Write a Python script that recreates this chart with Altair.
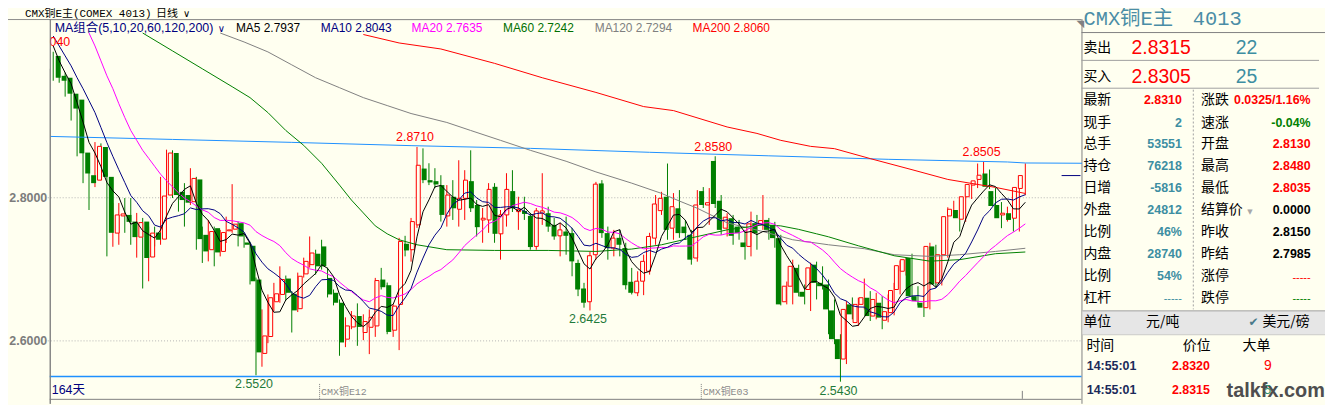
import altair as alt
import pandas as pd

# ---------------- values ----------------
opens = [
2.9982, 2.9704, 2.9677, 2.9454, 2.9371, 2.8631, 2.8315, 2.8246, 2.8709, 2.8292,
2.7506, 2.7746, 2.7760, 2.7667, 2.7450, 2.7667, 2.7172, 2.7514, 2.7422, 2.8038,
2.8625, 2.8083, 2.8038, 2.7945, 2.8256, 2.7482, 2.7274, 2.7575, 2.7250, 2.7538,
2.7561, 2.7645, 2.7375, 2.7329, 2.6857, 2.5825, 2.6061, 2.6547, 2.6649, 2.6871,
2.6658, 2.6450, 2.6936, 2.7065, 2.7218, 2.7320, 2.6880, 2.6672, 2.6533, 2.6024,
2.6195, 2.6348, 2.6117, 2.6190, 2.6209, 2.6857, 2.6778, 2.6149, 2.6510, 2.7357,
2.7274, 2.7621, 2.8408, 2.8246, 2.8232, 2.8177, 2.7746, 2.8014, 2.7839, 2.7992,
2.8232, 2.7899, 2.7690, 2.7690, 2.8153, 2.7496, 2.7760, 2.8093, 2.7806, 2.7816,
2.7746, 2.7320, 2.7784, 2.7784, 2.7621, 2.7468, 2.7528, 2.7506, 2.7089, 2.6732,
2.6547, 2.7204, 2.8200, 2.7506, 2.7297, 2.7440, 2.7297, 2.6826, 2.6672, 2.6834,
2.6973, 2.7436, 2.7820, 2.8014, 2.7575, 2.7853, 2.7597, 2.7482, 2.7158, 2.8093,
2.7899, 2.8514, 2.7958, 2.7575, 2.7714, 2.7597, 2.7375, 2.7320, 2.7645, 2.7635,
2.7690, 2.7621, 2.7436, 2.6547, 2.6764, 2.7020, 2.6686, 2.6718, 2.7065, 2.6811,
2.6788, 2.6426, 2.6024, 2.5746, 2.6510, 2.6256, 2.6510, 2.6603, 2.6347, 2.6533,
2.6288, 2.6395, 2.6718, 2.6973, 2.7159, 2.6625, 2.6533, 2.6464, 2.7320, 2.6811,
2.7204, 2.7746, 2.7829, 2.7700, 2.8014, 2.8177, 2.8256, 2.8339, 2.8093, 2.7899,
2.7760, 2.7784, 2.7714, 2.8130]
highs = [
3.0040, 2.9954, 2.9750, 2.9496, 2.9427, 2.8663, 2.8357, 2.8778, 2.8760, 2.8343,
2.7926, 2.7926, 2.7996, 2.7996, 2.7788, 2.7718, 2.7597, 2.7597, 2.8292, 2.8672,
2.8663, 2.8361, 2.8204, 2.8413, 2.8292, 2.7597, 2.7690, 2.7597, 2.7551, 2.7736,
2.8190, 2.7667, 2.7506, 2.7385, 2.6885, 2.6440, 2.6649, 2.6811, 2.7042, 2.6913,
2.6695, 2.6954, 2.7163, 2.7459, 2.7274, 2.7413, 2.7024, 2.6718, 2.6579, 2.6329,
2.6417, 2.6524, 2.6371, 2.6440, 2.6880, 2.7020, 2.6815, 2.6510, 2.7440, 2.7468,
2.7718, 2.8710, 2.8690, 2.8482, 2.8413, 2.8315, 2.8177, 2.8246, 2.8524, 2.8385,
2.8663, 2.7968, 2.7857, 2.8204, 2.8204, 2.7829, 2.8343, 2.8385, 2.8014, 2.8014,
2.7788, 2.7857, 2.8343, 2.7875, 2.7718, 2.7649, 2.7736, 2.7579, 2.7135, 2.6811,
2.7246, 2.8222, 2.8246, 2.7597, 2.7551, 2.7551, 2.7371, 2.7020, 2.6973, 2.7204,
2.7510, 2.8038, 2.8083, 2.8478, 2.8065, 2.8107, 2.7690, 2.7551, 2.8107, 2.8149,
2.8135, 2.8580, 2.8038, 2.7784, 2.7760, 2.7690, 2.7551, 2.7806, 2.7760, 2.8038,
2.7718, 2.7663, 2.7482, 2.6829, 2.7135, 2.7065, 2.6788, 2.7093, 2.7107, 2.7042,
2.6857, 2.6579, 2.6093, 2.6556, 2.6607, 2.6603, 2.6871, 2.6695, 2.6672, 2.6625,
2.6649, 2.6811, 2.7121, 2.7163, 2.7218, 2.6764, 2.6635, 2.7371, 2.7343, 2.7274,
2.7867, 2.7958, 2.7968, 2.8065, 2.8222, 2.8478, 2.8505, 2.8395, 2.8135, 2.7940,
2.7875, 2.7857, 2.8222, 2.8480]
lows = [
2.9635, 2.9607, 2.9413, 2.9079, 2.8579, 2.8204, 2.7829, 2.8149, 2.8246, 2.7181,
2.7315, 2.7343, 2.7510, 2.7343, 2.7163, 2.6732, 2.6833, 2.7320, 2.7343, 2.7996,
2.7996, 2.7806, 2.7597, 2.7899, 2.7274, 2.7089, 2.7111, 2.7042, 2.7181, 2.7367,
2.7510, 2.7320, 2.7302, 2.6788, 2.5520, 2.5639, 2.5968, 2.6417, 2.6533, 2.6565,
2.6117, 2.6403, 2.6885, 2.7024, 2.6926, 2.6996, 2.6607, 2.6496, 2.5792, 2.5913,
2.6163, 2.5931, 2.6010, 2.5815, 2.6056, 2.6718, 2.6093, 2.6056, 2.5871, 2.7181,
2.7107, 2.7579, 2.8204, 2.8177, 2.8135, 2.7667, 2.7597, 2.7690, 2.7597, 2.7690,
2.7801, 2.7459, 2.7371, 2.7510, 2.7371, 2.7135, 2.7597, 2.7801, 2.7551, 2.7690,
2.7274, 2.7274, 2.7621, 2.7524, 2.7413, 2.7181, 2.7204, 2.6903, 2.6625, 2.6464,
2.6425, 2.7135, 2.7440, 2.7135, 2.7181, 2.7181, 2.6718, 2.6649, 2.6625, 2.6639,
2.6926, 2.7343, 2.7760, 2.7413, 2.7413, 2.7440, 2.7413, 2.7065, 2.7107, 2.7857,
2.7621, 2.7857, 2.7482, 2.7459, 2.7343, 2.7413, 2.7135, 2.7181, 2.7274, 2.7551,
2.7413, 2.7302, 2.6496, 2.6510, 2.6510, 2.6621, 2.6510, 2.6417, 2.6579, 2.6718,
2.6093, 2.5954, 2.5430, 2.5676, 2.6301, 2.6209, 2.6440, 2.6278, 2.6301, 2.6163,
2.6260, 2.6357, 2.6649, 2.6913, 2.6579, 2.6496, 2.6334, 2.6440, 2.6746, 2.6774,
2.7163, 2.7718, 2.7528, 2.7663, 2.7982, 2.8135, 2.8222, 2.8121, 2.7736, 2.7575,
2.7667, 2.7528, 2.7528, 2.8035]
closes = [
2.9677, 2.9635, 2.9454, 2.9246, 2.8621, 2.8339, 2.8204, 2.8718, 2.8292, 2.7510,
2.7760, 2.7774, 2.7663, 2.7450, 2.7653, 2.7158, 2.7506, 2.7413, 2.8024, 2.8625,
2.8038, 2.7968, 2.7931, 2.8270, 2.7422, 2.7250, 2.7528, 2.7236, 2.7514, 2.7551,
2.7631, 2.7459, 2.7343, 2.6833, 2.5839, 2.6069, 2.6603, 2.6658, 2.6857, 2.6672,
2.6426, 2.6903, 2.7111, 2.7228, 2.7042, 2.7042, 2.6649, 2.6533, 2.5978, 2.6209,
2.6348, 2.6195, 2.6270, 2.6329, 2.6843, 2.6750, 2.6125, 2.6486, 2.7389, 2.7264,
2.7667, 2.8454, 2.8246, 2.8214, 2.8186, 2.7760, 2.8038, 2.7853, 2.7992, 2.8246,
2.7853, 2.7589, 2.7714, 2.8117, 2.7496, 2.7760, 2.8117, 2.7853, 2.7839, 2.7774,
2.7311, 2.7816, 2.7816, 2.7597, 2.7459, 2.7551, 2.7468, 2.7111, 2.6718, 2.6533,
2.7190, 2.8190, 2.7506, 2.7297, 2.7436, 2.7343, 2.6778, 2.6672, 2.6834, 2.7111,
2.7459, 2.7913, 2.7992, 2.7551, 2.7875, 2.7506, 2.7506, 2.7135, 2.7899, 2.7899,
2.7931, 2.7913, 2.7551, 2.7728, 2.7468, 2.7506, 2.7311, 2.7635, 2.7506, 2.7681,
2.7551, 2.7436, 2.6510, 2.6764, 2.7042, 2.6672, 2.6617, 2.7020, 2.6811, 2.6764,
2.6440, 2.6024, 2.5746, 2.6440, 2.6371, 2.6510, 2.6603, 2.6347, 2.6579, 2.6325,
2.6408, 2.6704, 2.7051, 2.7135, 2.6625, 2.6556, 2.6464, 2.7320, 2.6788, 2.7204,
2.7736, 2.7839, 2.7714, 2.8014, 2.8186, 2.8236, 2.8315, 2.8153, 2.7885, 2.7714,
2.7784, 2.7690, 2.8144, 2.8310]

ma5 = [
3.0121, 2.9913, 2.9746, 2.9593, 2.9329, 2.9058, 2.8774, 2.8625, 2.8435, 2.8213,
2.8097, 2.8011, 2.7800, 2.7631, 2.7660, 2.7539, 2.7486, 2.7436, 2.7550, 2.7745,
2.7921, 2.8014, 2.8117, 2.8167, 2.7925, 2.7768, 2.7681, 2.7542, 2.7390, 2.7415,
2.7492, 2.7478, 2.7500, 2.7364, 2.7021, 2.6708, 2.6538, 2.6400, 2.6406, 2.6572,
2.6643, 2.6704, 2.6795, 2.6868, 2.6942, 2.7065, 2.7014, 2.6899, 2.6649, 2.6482,
2.6343, 2.6253, 2.6200, 2.6270, 2.6399, 2.6482, 2.6468, 2.6510, 2.6718, 2.6802,
2.6986, 2.7454, 2.7804, 2.7970, 2.8153, 2.8172, 2.8089, 2.8010, 2.7965, 2.7978,
2.7996, 2.7907, 2.7879, 2.7904, 2.7754, 2.7735, 2.7840, 2.7868, 2.7813, 2.7868,
2.7779, 2.7718, 2.7711, 2.7663, 2.7600, 2.7649, 2.7579, 2.7438, 2.7261, 2.7077,
2.7004, 2.7149, 2.7228, 2.7343, 2.7524, 2.7554, 2.7272, 2.7106, 2.7013, 2.6947,
2.6971, 2.7197, 2.7461, 2.7606, 2.7758, 2.7767, 2.7686, 2.7514, 2.7583, 2.7589,
2.7674, 2.7756, 2.7839, 2.7804, 2.7718, 2.7633, 2.7513, 2.7529, 2.7485, 2.7528,
2.7536, 2.7561, 2.7336, 2.7189, 2.7061, 2.6885, 2.6721, 2.6822, 2.6832, 2.6777,
2.6731, 2.6611, 2.6357, 2.6283, 2.6204, 2.6218, 2.6333, 2.6454, 2.6482, 2.6472,
2.6453, 2.6472, 2.6614, 2.6725, 2.6785, 2.6814, 2.6767, 2.6820, 2.6750, 2.6867,
2.7103, 2.7378, 2.7456, 2.7702, 2.7897, 2.7997, 2.8093, 2.8181, 2.8156, 2.8061,
2.7970, 2.7845, 2.7843, 2.7937]
ma10 = [
3.0260, 3.0121, 2.9982, 2.9843, 2.9677, 2.9524, 2.9357, 2.9190, 2.8982, 2.8771,
2.8578, 2.8392, 2.8213, 2.8032, 2.7936, 2.7818, 2.7749, 2.7618, 2.7590, 2.7702,
2.7729, 2.7750, 2.7777, 2.7858, 2.7835, 2.7845, 2.7847, 2.7829, 2.7778, 2.7670,
2.7629, 2.7579, 2.7521, 2.7377, 2.7218, 2.7100, 2.7007, 2.6950, 2.6885, 2.6796,
2.6675, 2.6621, 2.6597, 2.6636, 2.6757, 2.6854, 2.6858, 2.6846, 2.6758, 2.6711,
2.6704, 2.6633, 2.6549, 2.6458, 2.6440, 2.6413, 2.6360, 2.6354, 2.6493, 2.6600,
2.6733, 2.6961, 2.7157, 2.7343, 2.7477, 2.7579, 2.7771, 2.7907, 2.7967, 2.8065,
2.8083, 2.7997, 2.7945, 2.7935, 2.7865, 2.7865, 2.7874, 2.7874, 2.7858, 2.7811,
2.7757, 2.7779, 2.7789, 2.7738, 2.7733, 2.7714, 2.7649, 2.7574, 2.7461, 2.7338,
2.7327, 2.7364, 2.7332, 2.7302, 2.7300, 2.7279, 2.7210, 2.7167, 2.7178, 2.7235,
2.7263, 2.7235, 2.7283, 2.7308, 2.7353, 2.7368, 2.7442, 2.7488, 2.7595, 2.7674,
2.7720, 2.7721, 2.7677, 2.7693, 2.7653, 2.7653, 2.7633, 2.7683, 2.7645, 2.7622,
2.7585, 2.7536, 2.7432, 2.7336, 2.7295, 2.7210, 2.7140, 2.7079, 2.7010, 2.6918,
2.6807, 2.6665, 2.6589, 2.6557, 2.6490, 2.6474, 2.6472, 2.6406, 2.6382, 2.6338,
2.6335, 2.6403, 2.6533, 2.6603, 2.6628, 2.6633, 2.6620, 2.6717, 2.6738, 2.6825,
2.6958, 2.7072, 2.7138, 2.7225, 2.7382, 2.7550, 2.7735, 2.7818, 2.7928, 2.7979,
2.7983, 2.7968, 2.8011, 2.8043]
ma20_first = 6
ma20 = [
3.0302, 3.0121, 2.9913, 2.9704, 2.9524, 2.9315, 2.9121, 2.8940, 2.8802, 2.8663,
2.8552, 2.8440, 2.8329, 2.8236, 2.8153, 2.8071, 2.7995, 2.7945, 2.7885, 2.7831,
2.7797, 2.7724, 2.7683, 2.7685, 2.7679, 2.7664, 2.7649, 2.7617, 2.7527, 2.7472,
2.7427, 2.7389, 2.7331, 2.7232, 2.7152, 2.7100, 2.7058, 2.7006, 2.6988, 2.6977,
2.6932, 2.6897, 2.6821, 2.6753, 2.6689, 2.6627, 2.6572, 2.6547, 2.6599, 2.6633,
2.6608, 2.6600, 2.6625, 2.6656, 2.6718, 2.6797, 2.6853, 2.6900, 2.6958, 2.6996,
2.7065, 2.7131, 2.7229, 2.7332, 2.7408, 2.7479, 2.7550, 2.7639, 2.7671, 2.7722,
2.7822, 2.7890, 2.7913, 2.7938, 2.7920, 2.7888, 2.7867, 2.7836, 2.7799, 2.7789,
2.7761, 2.7724, 2.7660, 2.7574, 2.7542, 2.7571, 2.7560, 2.7520, 2.7517, 2.7496,
2.7429, 2.7370, 2.7320, 2.7286, 2.7295, 2.7299, 2.7307, 2.7304, 2.7327, 2.7324,
2.7325, 2.7327, 2.7386, 2.7454, 2.7490, 2.7478, 2.7479, 2.7500, 2.7503, 2.7510,
2.7538, 2.7585, 2.7620, 2.7647, 2.7652, 2.7628, 2.7554, 2.7514, 2.7474, 2.7431,
2.7386, 2.7381, 2.7327, 2.7270, 2.7196, 2.7100, 2.7010, 2.6946, 2.6892, 2.6842,
2.6806, 2.6742, 2.6696, 2.6628, 2.6571, 2.6533, 2.6561, 2.6579, 2.6558, 2.6553,
2.6546, 2.6561, 2.6560, 2.6581, 2.6646, 2.6738, 2.6835, 2.6914, 2.7004, 2.7092,
2.7177, 2.7267, 2.7332, 2.7402, 2.7471, 2.7520, 2.7574, 2.7635]
ma60_days = [15, 20, 25, 30, 33, 36, 39, 42, 45, 48, 50, 52, 54, 56, 58, 61, 66, 74, 83, 91,
             97, 102, 108, 113, 119, 122, 125, 128, 130, 135, 141, 147, 152, 158, 163]
ma60 = [3.0302, 3.0052, 2.9802, 2.9552, 2.9399, 2.9190, 2.8940, 2.8732, 2.8482, 2.8177,
        2.7968, 2.7788, 2.7607, 2.7496, 2.7413, 2.7343, 2.7274, 2.7264, 2.7264, 2.7250,
        2.7283, 2.7343, 2.7458, 2.7552, 2.7621, 2.7607, 2.7558, 2.7496, 2.7454, 2.7329,
        2.7190, 2.7114, 2.7135, 2.7218, 2.7242]
ma120_days = [28, 32, 36, 40, 44, 48, 52, 56, 60, 66, 70, 75, 80, 86, 91, 97, 102, 105, 108, 113,
              119, 124, 130, 136, 141, 147, 152, 158, 163]
ma120 = [3.0302, 3.0177, 3.0038, 2.9857, 2.9677, 2.9538, 2.9399, 2.9288, 2.9177, 2.9052,
         2.8940, 2.8802, 2.8663, 2.8510, 2.8361, 2.8204, 2.8061, 2.7954, 2.7853, 2.7649,
         2.7528, 2.7413, 2.7343, 2.7288, 2.7204, 2.7181, 2.7204, 2.7250, 2.7294]
ma200_days = [52, 58, 65, 74, 82, 91, 99, 104, 113, 118, 122, 127, 131, 137, 144, 150, 154, 158, 163]
ma200 = [3.0281, 3.0163, 3.0079, 2.9878, 2.9677, 2.9472, 2.9274, 2.9218, 2.8989, 2.8899,
         2.8802, 2.8718, 2.8686, 2.8547, 2.8392, 2.8256, 2.8200, 2.8145, 2.8060]
upper_days = [-0.5, 20, 40, 60, 80, 100, 120, 140, 160, 163, 172.5]
upper_line = [2.8857, 2.8815, 2.8774, 2.8728, 2.8690, 2.8635, 2.8586, 2.8537, 2.8500, 2.8486, 2.8482]

peak_days = [0, 61, 111, 156]
peak_vals = [3.0040, 2.8710, 2.8580, 2.8505]
trough_days = [34, 90, 132]
trough_vals = [2.5520, 2.6425, 2.5430]
grid_vals = [2.6, 2.8]
last_price = 2.8310

legend_items = ["MA5 2.7937", "MA10 2.8043", "MA20 2.7635", "MA60 2.7242", "MA120 2.7294", "MA200 2.8060"]

# ---------------- styling ----------------
BG = "#FFFFF0"
RED = "#FF0000"
GRN = "#007F00"
NAVY = "#00007F"
TEAL = "#3D8EA2"
GRAY = "#808080"
SANS = "Liberation Sans, Noto Sans CJK SC"
CJK = "Noto Sans CJK SC, Liberation Sans"
MONO = "Liberation Mono, Noto Sans CJK SC"
W, H = 1325, 397

XS = alt.Scale(domain=[0, 163], range=[45.5, 1023.5], zero=False, nice=False)
YS = alt.Scale(domain=[2.6, 2.8], range=[333.7, 189.7], zero=False, nice=False)


def xq(f):
    return alt.X(f, type="quantitative", scale=XS, axis=None)


def yq(f):
    return alt.Y(f, type="quantitative", scale=YS, axis=None)


ONE = pd.DataFrame({"a": [0]})


def rule(x1, x2, y1, y2, color, width=1.0, dash=None):
    kw = dict(color=color, strokeWidth=width)
    if dash:
        kw["strokeDash"] = dash
    return alt.Chart(ONE).mark_rule(**kw).encode(
        x=alt.value(x1), x2=alt.value(x2), y=alt.value(y1), y2=alt.value(y2))


def box(x1, x2, y1, y2, color):
    return alt.Chart(ONE).mark_rect(color=color).encode(
        x=alt.value(x1), x2=alt.value(x2), y=alt.value(y1), y2=alt.value(y2))


def txt(rows, size, font=SANS, weight="normal", align="left", baseline="middle"):
    d = pd.DataFrame(rows, columns=["t", "px", "py", "col"])
    return alt.Chart(d).mark_text(font=font, fontSize=size, fontWeight=weight,
                                  align=align, baseline=baseline).encode(
        x=alt.X("px:Q", scale=None, axis=None),
        y=alt.Y("py:Q", scale=None, axis=None),
        text="t:N",
        color=alt.Color("col:N", scale=None))


# ---------------- candles ----------------
cd = pd.DataFrame({"i": list(range(len(opens))), "o": opens, "h": highs, "l": lows, "c": closes})
cd["col"] = [RED if c >= o else GRN for o, c in zip(opens, closes)]

wicks = alt.Chart(cd).mark_rule(strokeWidth=1).encode(
    x=xq("i"), y=yq("l"), y2="h:Q", color=alt.Color("col:N", scale=None))
down_bodies = alt.Chart(cd).transform_filter("datum.c < datum.o").mark_bar(
    size=5, color=GRN).encode(x=xq("i"), y=yq("o"), y2="c:Q")
up_bodies = alt.Chart(cd).transform_filter("datum.c >= datum.o").mark_bar(
    size=4, fill=BG, stroke=RED, strokeWidth=1).encode(x=xq("i"), y=yq("o"), y2="c:Q")

# ---------------- moving averages ----------------
rows = []
for nm, col, days, vals in [
    ("upper", "#1E90FF", upper_days, upper_line),
    ("MA200", "#FF0000", ma200_days, ma200),
    ("MA120", "#808080", ma120_days, ma120),
    ("MA60", "#008000", ma60_days, ma60),
    ("MA20", "#FF00FF", list(range(ma20_first, ma20_first + len(ma20))), ma20),
    ("MA10", "#000080", list(range(len(ma10))), ma10),
    ("MA5", "#000000", list(range(len(ma5))), ma5),
]:
    for d, v in zip(days, vals):
        rows.append((nm, d, v, col))
ma_df = pd.DataFrame(rows, columns=["name", "i", "v", "col"])
ma_lines = alt.Chart(ma_df).mark_line(strokeWidth=1).encode(
    x=xq("i"), y=yq("v"), color=alt.Color("col:N", scale=None), detail="name:N", order="i:Q")

# ---------------- peak / trough labels ----------------
pk = pd.DataFrame({"i": peak_days, "v": peak_vals, "t": [f"{v:.4f}" for v in peak_vals]})
tr = pd.DataFrame({"i": trough_days, "v": trough_vals, "t": [f"{v:.4f}" for v in trough_vals]})
pk_lab = alt.Chart(pk).mark_text(font=SANS, fontSize=12.5, color=RED, dy=-9.5, dx=-2).encode(
    x=xq("i"), y=yq("v"), text="t:N")
tr_lab = alt.Chart(tr).mark_text(font=SANS, fontSize=12.5, color="#1F7A3A", dy=9, dx=-2).encode(
    x=xq("i"), y=yq("v"), text="t:N")

# ---------------- grid & axis labels ----------------
gd = pd.DataFrame({"v": grid_vals, "t": [f"{v:.4f}" for v in grid_vals]})
grid = alt.Chart(gd).mark_rule(color="#B4B4B4", strokeDash=[1, 2], strokeWidth=1).encode(
    y=yq("v"), x=alt.value(40), x2=alt.value(1079))
ylab = alt.Chart(gd).mark_text(font=SANS, fontSize=12.5, color="#7C7C7C", align="right",
                               fontWeight="bold").encode(
    y=yq("v"), x=alt.value(39.5), text="t:N")
lp = pd.DataFrame({"v": [last_price]})
last_mark = alt.Chart(lp).mark_rule(color=NAVY, strokeWidth=1).encode(
    y=yq("v"), x=alt.value(1060), x2=alt.value(1079))

# ---------------- frame lines ----------------
frame = [
    rule(0, 1080, 10.5, 10.5, GRAY),
    rule(42.5, 42.5, 10, H, GRAY),
    rule(1080.5, 1080.5, 10, H, GRAY),
    rule(42, 1080, 369.5, 369.5, "#1E90FF", 1.6),
    rule(42, 1080, 392.5, 392.5, GRAY),
    rule(313.5, 313.5, 377, 392, GRAY, 1, [1, 1]),
    rule(697.5, 697.5, 377, 392, GRAY, 1, [1, 1]),
    rule(1020.5, 1020.5, 384, 392, GRAY),
    rule(1080, W, 23.5, 23.5, GRAY),
    rule(1080, 1319, 51.5, 51.5, "#A0A0A0"),
    rule(1080, 1319, 79.5, 79.5, "#A0A0A0"),
    rule(1192.5, 1192.5, 81, 302, "#A0A0A0", 1, [2, 2]),
    box(1081, W, 303.5, 327, "#E6E6E6"),
    rule(1081, W, 303.5, 303.5, "#A0A0A0"),
    rule(1081, W, 327.5, 327.5, "#C8C8C8"),
]
mask = box(0, 42, 11, 60, BG)

# ---------------- texts ----------------
texts = []
texts.append(txt([("CMX铜E主(COMEX 4013)", 17, 4.5, "#000000"), ("日线", 149, 4.5, "#000000")], 11, MONO))
texts.append(txt([("∨", 176, 5, "#000000"), ("∨", 211, 20, NAVY), ("◥", 1075, 14.5, GRAY)], 10, "DejaVu Sans"))
leg_x = [229.3, 314.7, 406, 498, 590.3, 688.7]
leg_c = ["#000000", NAVY, "#FF00FF", "#007000", "#808080", RED]
texts.append(txt([("MA组合(5,10,20,60,120,200)", 47, 18.5, NAVY)], 12.5, SANS))
texts.append(txt([(t, x, 18.5, c) for t, x, c in zip(legend_items, leg_x, leg_c)], 12, SANS))
texts.append(txt([("164天", 44, 383, NAVY)], 12.5, SANS))
texts.append(txt([("CMX铜E12", 315, 385, "#8A8A8A"), ("CMX铜E03", 699, 385, "#8A8A8A")], 10, MONO))

# side panel
TITLE = "#4A8DA6"
texts.append(txt([("CMX铜E主", 1082, 9.5, TITLE), ("4013", 1192, 9.5, TITLE)], 20.5, MONO))
texts.append(txt([("卖出", 1082, 38.7, "#000000"), ("买入", 1082, 68, "#000000")], 14, CJK))
texts.append(txt([("2.8315", 1130.3, 39, RED), ("22", 1235.3, 39, TEAL),
                  ("2.8305", 1130.3, 68.3, RED), ("25", 1235.3, 68.3, TEAL)], 19.5, SANS))
row_y = [91.3, 114.7, 135.3, 157.7, 179.7, 202, 223.7, 246, 268.7, 290.3]
left_lab = ["最新", "现手", "总手", "持仓", "日增", "外盘", "比例", "内盘", "比例", "杠杆"]
right_lab = ["涨跌", "速涨", "开盘", "最高", "最低", "结算价", "昨收", "昨结", "涨停", "跌停"]
left_val = [("2.8310", RED), ("2", TEAL), ("53551", TEAL), ("76218", TEAL), ("-5816", TEAL),
            ("24812", TEAL), ("46%", TEAL), ("28740", TEAL), ("54%", TEAL)]
right_val = [("0.0325/1.16%", RED), ("-0.04%", "#008000"), ("2.8130", RED), ("2.8480", RED),
             ("2.8035", RED), ("0.0000", "#000000"), ("2.8150", "#000000"), ("2.7985", "#000000")]
lab_rows = [(t, 1082, y, "#000000") for t, y in zip(left_lab, row_y)] + \
           [(t, 1200.3, y, "#000000") for t, y in zip(right_lab, row_y)]
lab_rows += [("单位", 1082, 315, "#000000"), ("元/吨", 1145, 315, "#000000"),
             ("美元/磅", 1262, 315, "#000000"),
             ("时间", 1085, 338.7, "#000000"), ("价位", 1182, 338.7, "#000000"),
             ("大单", 1242, 338.7, "#000000")]
texts.append(txt(lab_rows, 14, CJK))
val_rows = [(t, 1181, y, c) for (t, c), y in zip(left_val, row_y)] + \
           [(t, 1310.5, y, c) for (t, c), y in zip(right_val, row_y)]
texts.append(txt(val_rows, 12.5, SANS, "bold", "right"))
texts.append(txt([("-----", 1181, 291.5, TEAL), ("-----", 1310.5, 270, RED),
                  ("-----", 1310.5, 291.5, "#008000")], 11, SANS, "normal", "right"))
texts.append(txt([("▼", 1249.5, 204, "#A8A8A8")], 7, "DejaVu Sans", "normal", "center"))
texts.append(txt([("✔", 1248, 315, "#4A7A8A")], 12, "DejaVu Sans"))
texts.append(txt([("14:55:01", 1085.3, 358.7, "#1B2A5A"), ("2.8320", 1171, 358.7, RED),
                  ("14:55:01", 1085.3, 383, "#1B2A5A"), ("2.8315", 1171, 383, RED)],
                 12.5, SANS, "bold"))
texts.append(txt([("9", 1263.7, 358.7, RED)], 14, SANS))
texts.append(txt([("5", 1263.7, 383, "#2F8F6F")], 13, SANS))
texts.append(txt([("talkfx.com", 1226, 384.5, "#4E4E4E")], 20, SANS, "bold"))

layers = [grid] + frame + [wicks, down_bodies, up_bodies, ma_lines, last_mark,
                           pk_lab, tr_lab, mask, rule(42.5, 42.5, 10, H, GRAY), ylab] + texts

chart = alt.layer(*layers).properties(
    width=W, height=H, background=BG, padding=0,
    autosize=alt.AutoSizeParams(type="none"),
).resolve_scale(x="independent", y="independent", color="independent").configure_view(strokeWidth=0)

chart.save("out.html", embed_options={"renderer": "svg", "actions": False})
